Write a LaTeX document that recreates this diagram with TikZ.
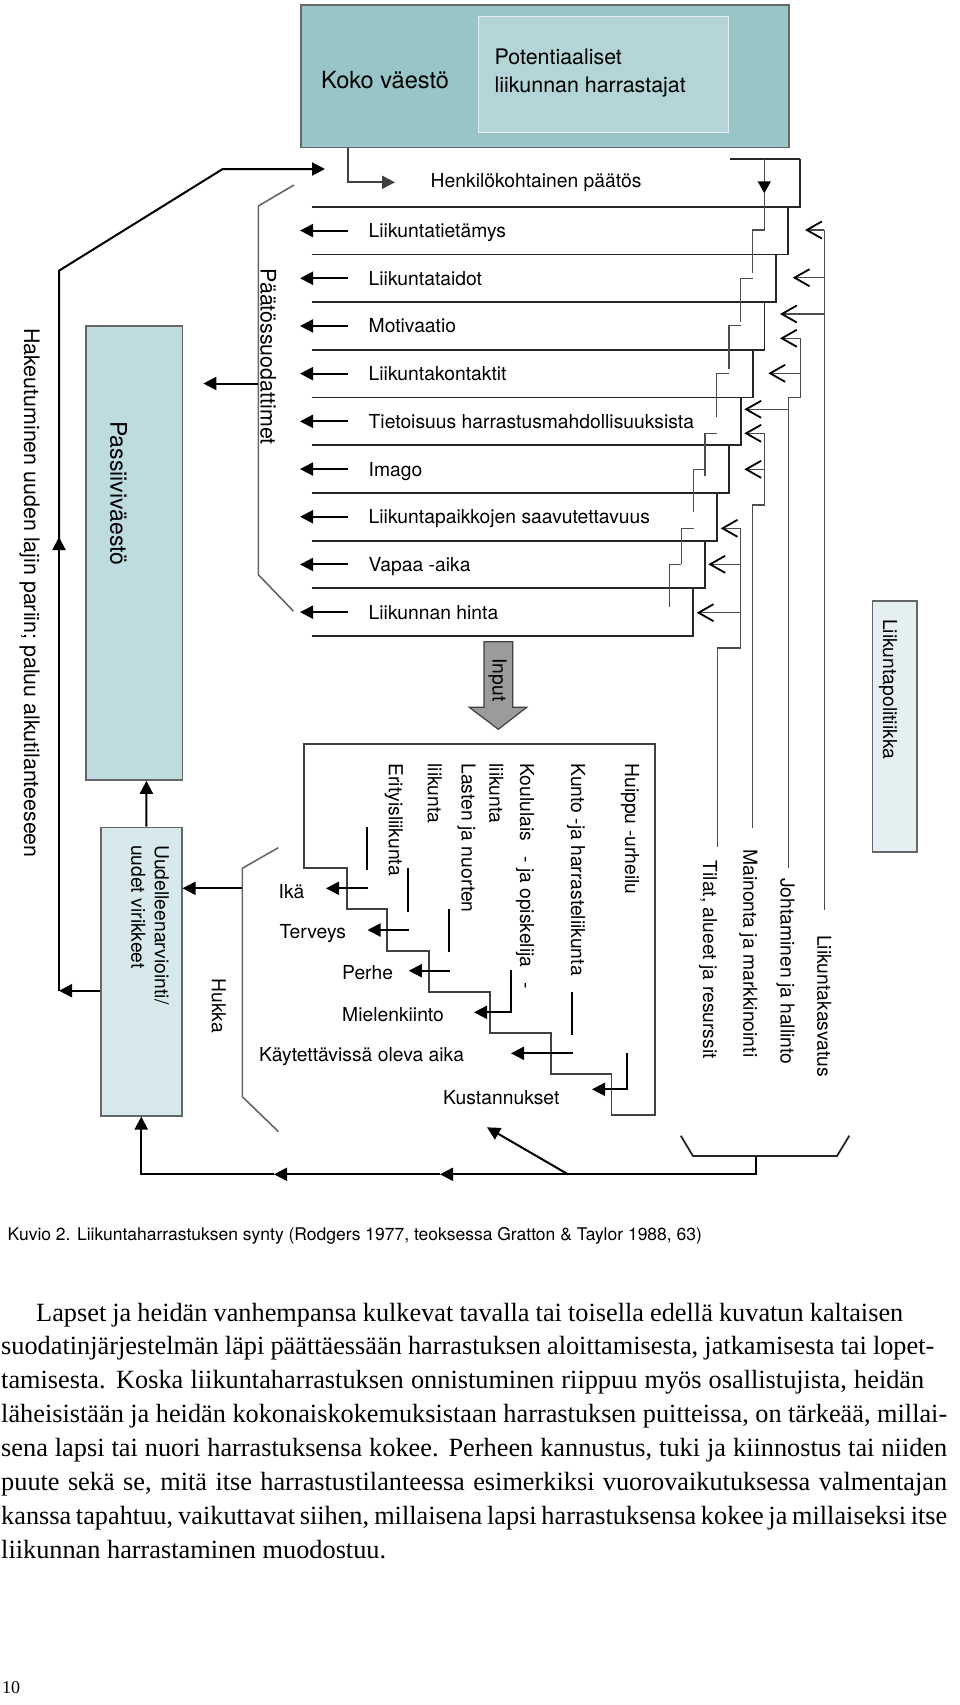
\documentclass[tikz,border=0pt]{standalone}
\usepackage{fontspec}
\setmainfont{Liberation Serif}
\newfontfamily\helv{TeX Gyre Heros}
\usetikzlibrary{arrows.meta, calc}

\definecolor{kokofill}{HTML}{98C5C8}
\definecolor{potfill}{HTML}{B4D5D8}
\definecolor{passfill}{HTML}{BEDCE0}
\definecolor{uudfill}{HTML}{D7E9ED}
\definecolor{polfill}{HTML}{E3EFF0}
\definecolor{inputfill}{HTML}{9B9B9B}

\tikzset{
  lbl/.style={font=\helv\fontsize{19.3}{23}\selectfont, inner sep=0pt, text height=13.9pt, text depth=0pt},
  biglbl/.style={lbl, font=\helv\fontsize{21.4}{26}\selectfont, text height=15.4pt},
  vlbl/.style={lbl, rotate=-90, anchor=west},
  bigvlbl/.style={biglbl, rotate=-90, anchor=west},
  box/.style={draw=black!60, line width=1.5pt, anchor=north west, inner sep=0pt},
  rowline/.style={line width=1.8pt, black!85},
  stair/.style={line width=1.4pt, black!70},
  bracket/.style={line width=1.6pt, black!60},
  tick/.style={line width=2pt},
  arr/.style={line width=2pt, -{Triangle[length=13pt,width=13pt]}},
  barb/.style={stair, -{Straight Barb[length=15pt,width=17pt,line width=1.8pt,color=black]}},
  bodyline/.style={font=\fontsize{26.3}{33.9}\selectfont, inner sep=0pt, anchor=base west}
}

\begin{document}
\begin{tikzpicture}[x=1pt, y=-1pt]
\useasboundingbox (0,0) rectangle (960,1705);

% populations
\node[box, fill=kokofill, minimum width=488pt, minimum height=142.7pt] (koko) at (300,4) {};
\node[box, draw=white!60!potfill, line width=1pt, fill=potfill, minimum width=250pt, minimum height=116pt] (pot) at (478,16) {};
\node[lbl, font=\helv\fontsize{23.6}{28}\selectfont, text height=17pt, anchor=west] (kokolbl) at (321,79.5) {Koko väestö};
\node[biglbl, anchor=west] (pot1) at (494.5,56.5) {Potentiaaliset};
\node[biglbl, anchor=west] (pot2) at (494.5,84.8) {liikunnan harrastajat};

% decision filters
\node[lbl, anchor=west] (henk) at (430.5,181) {Henkilökohtainen päätös};
\draw[arr, draw=black!75] ($(koko.south west)+(47.7,0)$) |- ($(henk.west)+(-35.5,1.3)$);
\draw[rowline] (730,159) -- (800,159);
\foreach \k in {1,...,10}
  \draw[rowline] (311.7,{159+47.7*\k}) -- ({800-11.85*(\k-1)},{159+47.7*\k}) -- ({800-11.85*(\k-1)},{159+47.7*(\k-1)});
\foreach \txt [count=\i] in {Liikuntatietämys, Liikuntataidot, Motivaatio, Liikuntakontaktit,
    Tietoisuus harrastusmahdollisuuksista, Imago, Liikuntapaikkojen saavutettavuus, Vapaa -aika, Liikunnan hinta} {
  \node[lbl, anchor=west] (suod\i) at (368.5,{159+47.7*(\i+0.5)}) {\txt};
  \draw[arr] ($(suod\i.west)+(-20.8,0)$) -- ++(-47.7,0);
}

% inner steps
\draw[stair, -{Triangle[length=12pt,width=13pt,color=black]}] (764.3,159) -- (764.3,193.3);
\draw[stair] (764.3,193.3) -- (764.3,230) -- (752.3,230) -- (752.3,273.3);
\foreach \sy/\sx/\ey in {278.3/740.7/321.7, 325.5/729/369, 373.3/716.7/416.7, 433.3/705/476,
    469.3/693.3/512, 528.3/681.5/564, 564.3/669.3/606.7}
  \draw[stair] ({\sx+12},\sy) -- (\sx,\sy) -- (\sx,\ey);

% policy side
\node[box, fill=polfill, minimum width=44.3pt, minimum height=251pt] (polbox) at (871.7,600) {};
\node[vlbl] (pol) at (890,619) {Liikuntapolitiikka};
\node[vlbl] (kasvatus) at (824.2,935) {Liikuntakasvatus};
\node[vlbl] (johto) at (787.5,877.8) {Johtaminen ja hallinto};
\node[vlbl] (mainonta) at (750.3,849) {Mainonta ja markkinointi};
\node[vlbl] (tilat) at (710,860.5) {Tilat, alueet ja resurssit};
\draw[stair] (kasvatus.west |- 0,230) -- (kasvatus.west |- 0,909.6);
\draw[stair] (800.7,338.3) -- (800.7,397.7) -- (788.3,397.7) -- (788.3,868);
\draw[stair] (764.3,433.3) -- (764.3,505) -- (752.3,505) -- (752.3,828);
\draw[stair] (740.7,528.3) -- (740.7,648) -- (717.3,648) -- (717.3,847);
\foreach \sx/\yy/\tx in {824.3/230/805, 824.3/277.7/792.7, 824.3/314/780, 800.7/338.3/780, 800.7/373.3/768.3,
    788.3/409.3/744.3, 764.3/433.3/744.3, 764.3/469.3/744.3, 740.7/528.3/720.7, 740.7/564.3/708.3, 740.7/612.7/696.7}
  \draw[barb] (\sx,\yy) -- (\tx,\yy);

% input
\draw[fill=inputfill, draw=black!75, line width=1.2pt] (484,641.7) -- (512.7,641.7) -- (512.7,707.3) -- (526.7,707.3)
  -- (498.3,729.3) -- (469.3,707.3) -- (484,707.3) -- cycle;
\node[lbl, rotate=-90] (input) at (499.5,680) {Input};

% forms of sport
\draw[line width=1.8pt, black!75] (304,744.3) -- (655,744.3) -- (655,1115) -- (611.5,1115) -- (611.5,1073.7)
  -- (551,1073.7) -- (551,1032.7) -- (490,1032.7) -- (490,992.3) -- (429,992.3) -- (429,950.7)
  -- (387.3,950.7) -- (387.3,909.3) -- (346.7,909.3) -- (346.7,867.7) -- (304,867.7) -- cycle;
\node[vlbl] (huippu) at (632,763.3) {Huippu -urheilu};
\node[vlbl] (kunto) at (578,763.3) {Kunto -ja harrasteliikunta};
\node[vlbl] (koulu) at (527,763.3) {Koululais\hspace{0.5em} - ja opiskelija\hspace{0.5em} -};
\node[vlbl] (koulu2) at (496.3,763.3) {liikunta};
\node[vlbl] (lasten) at (468.5,763.3) {Lasten ja nuorten};
\node[vlbl] (lasten2) at (434.8,763.3) {liikunta};
\node[vlbl] (erityis) at (395.8,763.3) {Erityisliikunta};

\node[lbl, anchor=west] (ika) at (278.5,891.2) {Ikä};
\node[lbl, anchor=west] (terveys) at (279.5,931.7) {Terveys};
\node[lbl, anchor=west] (perhe) at (342,972.7) {Perhe};
\node[lbl, anchor=west] (mielen) at (342,1014.3) {Mielenkiinto};
\node[lbl, anchor=west] (aika) at (259,1055) {Käytettävissä oleva aika};
\node[lbl, anchor=west] (kust) at (443,1097.5) {Kustannukset};
\draw[tick] (366.7,826.7) -- (366.7,870);
\draw[arr] (367.5,888.3) -- (326,888.3);
\draw[tick] (408.3,867.7) -- (408.3,911.7);
\draw[arr] (408.8,930) -- (367.5,930);
\draw[tick] (449,909.3) -- (449,952.3);
\draw[arr] (450,970.7) -- (408.8,970.7);
\draw[arr] (511,970) |- (474,1012.3);
\draw[tick] (572,992) -- (572,1035);
\draw[arr] (573,1053.3) -- (511,1053.3);
\draw[arr] (626.5,1053) |- (592,1089.3);

% filters and waste
\draw[bracket] (294,185) -- (258.3,206) -- (258.3,574.7) -- (293.3,611);
\node[bigvlbl] (paatos) at (268.3,268.3) {Päätössuodattimet};
\draw[bracket] (278.3,847.7) -- (242.3,868.3) -- (242.3,1096.7) -- (278.5,1131.7);
\node[vlbl] (hukka) at (218.7,978.3) {Hukka};

% passive population and feedback
\node[box, fill=passfill, minimum width=96.7pt, minimum height=454.3pt] (pass) at (85,325) {};
\node[bigvlbl, font=\helv\fontsize{23}{27}\selectfont] (passlbl) at (118,421) {Passiiviväestö};
\node[box, fill=uudfill, minimum width=81pt, minimum height=288.3pt] (uud) at (100,826.7) {};
\node[vlbl] (uud1) at (161.7,845) {Uudelleenarviointi/};
\node[vlbl] (uud2) at (138.3,845) {uudet virikkeet};
\draw[arr] (258.3,383.5) -- ++(-55,0);
\draw[arr] ($(uud.north)+(5.2,0)$) -- ($(pass.south)+(12.3,0)$);
\draw[arr] (242.3,888.3) -- (uud.east |- 0,888.3);
\draw[arr] (uud.west |- 0,990.7) -- (59,990.7);
\draw[arr] (59,990.7) -- (59,537);
\draw[arr] (59,545) -- (59,270.7) -- (222.7,169) -- (325,169);
\node[bigvlbl] (hakeutuminen) at (31.7,328) {Hakeutuminen uuden lajin pariin; paluu alkutilanteeseen};

% bottom return line
\draw[bracket, line width=1.8pt, black!85] (680.8,1135.7) -- (693,1156) -- (837,1156) -- (849.3,1135.7);
\draw[arr] (756,1156) |- (440,1174.3);
\draw[arr] (440,1174.3) -- (274,1174.3);
\draw[arr] (274,1174.3) -| (uud.south);
\draw[arr] (568,1174.3) -- (487,1127.3);

% caption and text
\node[font=\helv\fontsize{17.5}{21}\selectfont, inner sep=0pt, anchor=base west] (kuvio) at (7.5,1240)
  {Kuvio 2. Liikuntaharrastuksen synty (Rodgers 1977, teoksessa Gratton \& Taylor 1988, 63)};
\node[bodyline] (rivi1) at (36,1321) {\makebox[867pt][s]{Lapset ja heidän vanhempansa kulkevat tavalla tai toisella edellä kuvatun kaltaisen}};
\node[bodyline] (rivi2) at (1,1354.9) {\makebox[933pt][s]{suodatinjärjestelmän läpi päättäessään harrastuksen aloittamisesta, jatkamisesta tai lopet-}};
\node[bodyline] (rivi3) at (1,1388.8) {\makebox[923pt][s]{tamisesta. Koska liikuntaharrastuksen onnistuminen riippuu myös osallistujista, heidän}};
\node[bodyline] (rivi4) at (1,1422.7) {\makebox[946pt][s]{läheisistään ja heidän kokonaiskokemuksistaan harrastuksen puitteissa, on tärkeää, millai-}};
\node[bodyline] (rivi5) at (1,1456.6) {\makebox[946pt][s]{sena lapsi tai nuori harrastuksensa kokee. Perheen kannustus, tuki ja kiinnostus tai niiden}};
\node[bodyline] (rivi6) at (1,1490.5) {\makebox[946pt][s]{puute sekä se, mitä itse harrastustilanteessa esimerkiksi vuorovaikutuksessa valmentajan}};
\node[bodyline] (rivi7) at (1,1524.4) {\makebox[946pt][s]{kanssa tapahtuu, vaikuttavat siihen, millaisena lapsi harrastuksensa kokee ja millaiseksi itse}};
\node[bodyline] (rivi8) at (1,1558.3) {liikunnan harrastaminen muodostuu.};
\node[font=\fontsize{18}{22}\selectfont, inner sep=0pt, anchor=base west] (sivu) at (2,1693) {10};
\end{tikzpicture}
\end{document}
